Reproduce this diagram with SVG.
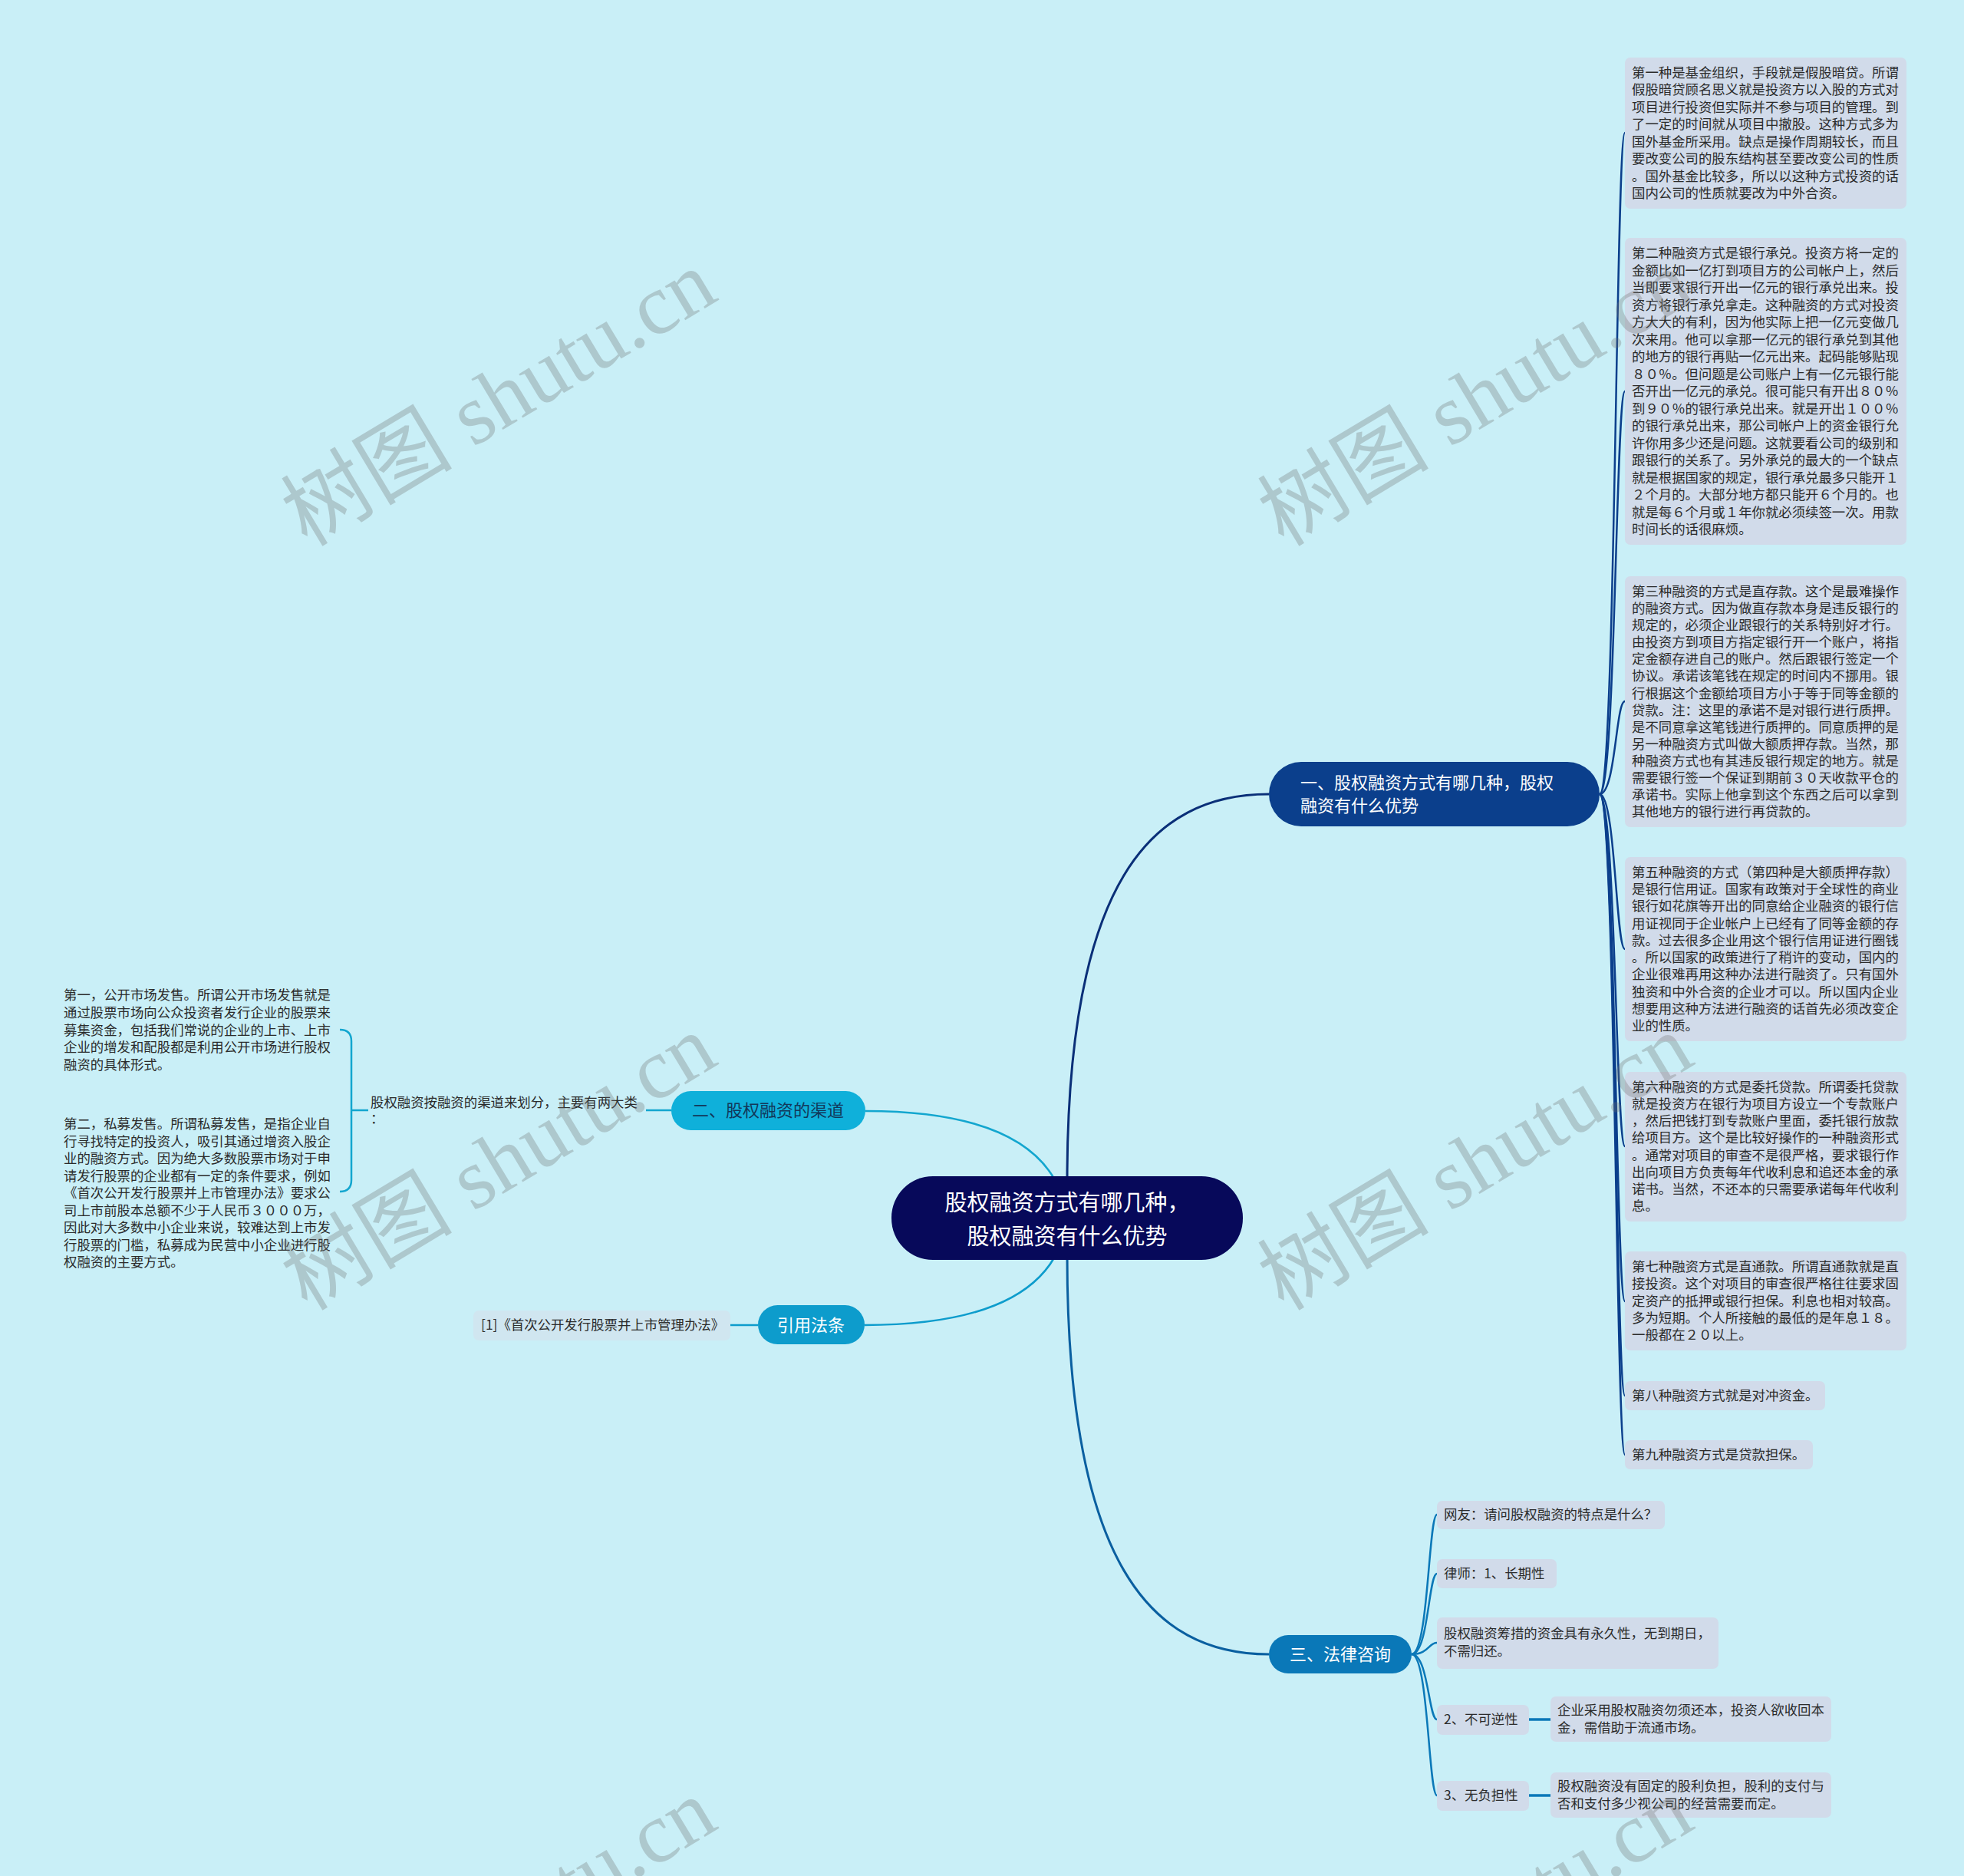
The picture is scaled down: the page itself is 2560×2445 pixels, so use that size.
<svg xmlns="http://www.w3.org/2000/svg" width="2560" height="2445" viewBox="0 0 2560 2445">
<defs>
<style>
.t{font-family:"Noto Sans CJK SC","Noto Sans",sans-serif;font-size:17.4px;fill:#2b2b2b}
.nt{font-family:"Noto Sans CJK SC","Noto Sans",sans-serif;font-size:22px}
.box{fill:#d1dbea}
.c1{fill:none;stroke:#0b3f8c;stroke-width:2.5}
.c2{fill:none;stroke:#13a6cf;stroke-width:2.5}
.c3{fill:none;stroke:#0a78b8;stroke-width:2.5}
.wm{font-family:"Liberation Serif","Noto Sans CJK SC",serif;font-size:112px;fill:#6f6f6f;opacity:0.3}
</style>
</defs>
<rect x="0" y="0" width="2560" height="2445" fill="#c9eff7"/>

<g id="connectors">
<path d="M1391,1540 C1391,1150 1500,1035 1654,1035" fill="none" stroke="#0a2f78" stroke-width="3"/>
<path d="M1391,1636 C1391,2037 1500,2156 1654,2156" fill="none" stroke="#0a5fa0" stroke-width="3"/>
<path d="M1128,1448 C1300,1448 1380,1500 1391,1588" class="c2"/>
<path d="M1127,1727 C1300,1727 1380,1675 1391,1588" fill="none" stroke="#0d9ccc" stroke-width="2.5"/>
<path d="M2085,1035 C2106,1035 2106,173 2118,173" class="c1"/>
<path d="M2085,1035 C2106,1035 2106,510 2118,510" class="c1"/>
<path d="M2085,1035 C2106,1035 2106,914 2118,914" class="c1"/>
<path d="M2085,1035 C2106,1035 2106,1237 2118,1237" class="c1"/>
<path d="M2085,1035 C2106,1035 2106,1494 2118,1494" class="c1"/>
<path d="M2085,1035 C2106,1035 2106,1696 2118,1696" class="c1"/>
<path d="M2085,1035 C2106,1035 2106,1819 2118,1819" class="c1"/>
<path d="M2085,1035 C2106,1035 2106,1896 2118,1896" class="c1"/>
<path d="M875,1447 L842,1447" class="c2"/>
<path d="M480,1447 L458,1447 M443,1342 Q458,1342 458,1357 L458,1538 Q458,1553 443,1553" class="c2"/>
<path d="M988,1727 L952,1727" fill="none" stroke="#0d9ccc" stroke-width="2.5"/>
<path d="M1840,2156 C1862,2156 1862,1974 1873,1974" class="c3"/>
<path d="M1840,2156 C1862,2156 1862,2051 1873,2051" class="c3"/>
<path d="M1840,2156 C1862,2156 1862,2141 1873,2141" class="c3"/>
<path d="M1840,2156 C1862,2156 1862,2241 1873,2241" class="c3"/>
<path d="M1840,2156 C1862,2156 1862,2340 1873,2340" class="c3"/>
<path d="M1993,2241 L2021,2241" fill="none" stroke="#0a78b8" stroke-width="3.5"/>
<path d="M1993,2340 L2021,2340" fill="none" stroke="#0a78b8" stroke-width="3.5"/>
</g>

<g id="root">
<rect x="1162" y="1533" width="458" height="109" rx="54" fill="#07095a"/>
<text class="nt" style="font-size:29px" fill="#ffffff" text-anchor="middle"><tspan x="1391" y="1578">股权融资方式有哪几种，</tspan><tspan x="1391" y="1622">股权融资有什么优势</tspan></text>
</g>

<g id="n1">
<rect x="1654" y="993" width="431" height="84" rx="42" fill="#0b3f8c"/>
<text class="nt" fill="#ffffff"><tspan x="1695" y="1028">一、股权融资方式有哪几种，股权</tspan><tspan x="1695" y="1058">融资有什么优势</tspan></text>
</g>

<g id="n1-1">
<rect class="box" x="2118" y="75" width="367" height="197" rx="7"/>
<text class="t"><tspan x="2127" y="101">第一种是基金组织，手段就是假股暗贷。所谓</tspan><tspan x="2127" y="123.4">假股暗贷顾名思义就是投资方以入股的方式对</tspan><tspan x="2127" y="145.9">项目进行投资但实际并不参与项目的管理。到</tspan><tspan x="2127" y="168.3">了一定的时间就从项目中撤股。这种方式多为</tspan><tspan x="2127" y="190.7">国外基金所采用。缺点是操作周期较长，而且</tspan><tspan x="2127" y="213.1">要改变公司的股东结构甚至要改变公司的性质</tspan><tspan x="2127" y="235.6">。国外基金比较多，所以以这种方式投资的话</tspan><tspan x="2127" y="258">国内公司的性质就要改为中外合资。</tspan></text>
</g>

<g id="n1-2">
<rect class="box" x="2118" y="310" width="367" height="400" rx="7"/>
<text class="t"><tspan x="2127" y="336">第二种融资方式是银行承兑。投资方将一定的</tspan><tspan x="2127" y="358.5">金额比如一亿打到项目方的公司帐户上，然后</tspan><tspan x="2127" y="381">当即要求银行开出一亿元的银行承兑出来。投</tspan><tspan x="2127" y="403.5">资方将银行承兑拿走。这种融资的方式对投资</tspan><tspan x="2127" y="426">方大大的有利，因为他实际上把一亿元变做几</tspan><tspan x="2127" y="448.5">次来用。他可以拿那一亿元的银行承兑到其他</tspan><tspan x="2127" y="471">的地方的银行再贴一亿元出来。起码能够贴现</tspan><tspan x="2127" y="493.5">８０％。但问题是公司账户上有一亿元银行能</tspan><tspan x="2127" y="516">否开出一亿元的承兑。很可能只有开出８０％</tspan><tspan x="2127" y="538.5">到９０％的银行承兑出来。就是开出１００％</tspan><tspan x="2127" y="561">的银行承兑出来，那公司帐户上的资金银行允</tspan><tspan x="2127" y="583.5">许你用多少还是问题。这就要看公司的级别和</tspan><tspan x="2127" y="606">跟银行的关系了。另外承兑的最大的一个缺点</tspan><tspan x="2127" y="628.5">就是根据国家的规定，银行承兑最多只能开１</tspan><tspan x="2127" y="651">２个月的。大部分地方都只能开６个月的。也</tspan><tspan x="2127" y="673.5">就是每６个月或１年你就必须续签一次。用款</tspan><tspan x="2127" y="696">时间长的话很麻烦。</tspan></text>
</g>

<g id="n1-3">
<rect class="box" x="2118" y="751" width="367" height="327" rx="7"/>
<text class="t"><tspan x="2127" y="777">第三种融资的方式是直存款。这个是最难操作</tspan><tspan x="2127" y="799.1">的融资方式。因为做直存款本身是违反银行的</tspan><tspan x="2127" y="821.2">规定的，必须企业跟银行的关系特别好才行。</tspan><tspan x="2127" y="843.2">由投资方到项目方指定银行开一个账户，将指</tspan><tspan x="2127" y="865.3">定金额存进自己的账户。然后跟银行签定一个</tspan><tspan x="2127" y="887.4">协议。承诺该笔钱在规定的时间内不挪用。银</tspan><tspan x="2127" y="909.5">行根据这个金额给项目方小于等于同等金额的</tspan><tspan x="2127" y="931.6">贷款。注：这里的承诺不是对银行进行质押。</tspan><tspan x="2127" y="953.6">是不同意拿这笔钱进行质押的。同意质押的是</tspan><tspan x="2127" y="975.7">另一种融资方式叫做大额质押存款。当然，那</tspan><tspan x="2127" y="997.8">种融资方式也有其违反银行规定的地方。就是</tspan><tspan x="2127" y="1019.9">需要银行签一个保证到期前３０天收款平仓的</tspan><tspan x="2127" y="1042">承诺书。实际上他拿到这个东西之后可以拿到</tspan><tspan x="2127" y="1064">其他地方的银行进行再贷款的。</tspan></text>
</g>

<g id="n1-5">
<rect class="box" x="2118" y="1117" width="367" height="240" rx="7"/>
<text class="t"><tspan x="2127" y="1143">第五种融资的方式（第四种是大额质押存款）</tspan><tspan x="2127" y="1165.2">是银行信用证。国家有政策对于全球性的商业</tspan><tspan x="2127" y="1187.4">银行如花旗等开出的同意给企业融资的银行信</tspan><tspan x="2127" y="1209.7">用证视同于企业帐户上已经有了同等金额的存</tspan><tspan x="2127" y="1231.9">款。过去很多企业用这个银行信用证进行圈钱</tspan><tspan x="2127" y="1254.1">。所以国家的政策进行了稍许的变动，国内的</tspan><tspan x="2127" y="1276.3">企业很难再用这种办法进行融资了。只有国外</tspan><tspan x="2127" y="1298.6">独资和中外合资的企业才可以。所以国内企业</tspan><tspan x="2127" y="1320.8">想要用这种方法进行融资的话首先必须改变企</tspan><tspan x="2127" y="1343">业的性质。</tspan></text>
</g>

<g id="n1-6">
<rect class="box" x="2118" y="1397" width="367" height="195" rx="7"/>
<text class="t"><tspan x="2127" y="1423">第六种融资的方式是委托贷款。所谓委托贷款</tspan><tspan x="2127" y="1445.1">就是投资方在银行为项目方设立一个专款账户</tspan><tspan x="2127" y="1467.3">，然后把钱打到专款账户里面，委托银行放款</tspan><tspan x="2127" y="1489.4">给项目方。这个是比较好操作的一种融资形式</tspan><tspan x="2127" y="1511.6">。通常对项目的审查不是很严格，要求银行作</tspan><tspan x="2127" y="1533.7">出向项目方负责每年代收利息和追还本金的承</tspan><tspan x="2127" y="1555.9">诺书。当然，不还本的只需要承诺每年代收利</tspan><tspan x="2127" y="1578">息。</tspan></text>
</g>

<g id="n1-7">
<rect class="box" x="2118" y="1631" width="367" height="129" rx="7"/>
<text class="t"><tspan x="2127" y="1657">第七种融资方式是直通款。所谓直通款就是直</tspan><tspan x="2127" y="1679.2">接投资。这个对项目的审查很严格往往要求固</tspan><tspan x="2127" y="1701.5">定资产的抵押或银行担保。利息也相对较高。</tspan><tspan x="2127" y="1723.7">多为短期。个人所接触的最低的是年息１８。</tspan><tspan x="2127" y="1746">一般都在２０以上。</tspan></text>
</g>

<g id="n1-8">
<rect class="box" x="2118" y="1800" width="261" height="38" rx="7"/>
<text class="t" x="2127" y="1825">第八种融资方式就是对冲资金。</text>
</g>

<g id="n1-9">
<rect class="box" x="2118" y="1877" width="245" height="38" rx="7"/>
<text class="t" x="2127" y="1902">第九种融资方式是贷款担保。</text>
</g>

<g id="n2">
<rect x="875" y="1422" width="253" height="51" rx="25.5" fill="#0fb0da"/>
<text class="nt" fill="#12385a" text-anchor="middle" x="1001" y="1455">二、股权融资的渠道</text>
</g>

<g id="n2-1">
<text class="t"><tspan x="483" y="1443">股权融资按融资的渠道来划分，主要有两大类</tspan><tspan x="483" y="1464">：</tspan></text>
</g>

<g id="n2-1-1">
<text class="t"><tspan x="83" y="1303">第一，公开市场发售。所谓公开市场发售就是</tspan><tspan x="83" y="1325.8">通过股票市场向公众投资者发行企业的股票来</tspan><tspan x="83" y="1348.5">募集资金，包括我们常说的企业的上市、上市</tspan><tspan x="83" y="1371.3">企业的增发和配股都是利用公开市场进行股权</tspan><tspan x="83" y="1394">融资的具体形式。</tspan></text>
</g>

<g id="n2-1-2">
<text class="t"><tspan x="83" y="1471">第二，私募发售。所谓私募发售，是指企业自</tspan><tspan x="83" y="1493.5">行寻找特定的投资人，吸引其通过增资入股企</tspan><tspan x="83" y="1516">业的融资方式。因为绝大多数股票市场对于申</tspan><tspan x="83" y="1538.5">请发行股票的企业都有一定的条件要求，例如</tspan><tspan x="83" y="1561">《首次公开发行股票并上市管理办法》要求公</tspan><tspan x="83" y="1583.5">司上市前股本总额不少于人民币３０００万，</tspan><tspan x="83" y="1606">因此对大多数中小企业来说，较难达到上市发</tspan><tspan x="83" y="1628.5">行股票的门槛，私募成为民营中小企业进行股</tspan><tspan x="83" y="1651">权融资的主要方式。</tspan></text>
</g>

<g id="n4">
<rect x="988" y="1701" width="139" height="51" rx="25.5" fill="#0d9ccc"/>
<text class="nt" fill="#ffffff" text-anchor="middle" x="1057" y="1735">引用法条</text>
</g>

<g id="n4-1">
<rect x="617" y="1708" width="335" height="39" rx="7" fill="#d0e6f0"/>
<text class="t" x="627" y="1733">[1]《首次公开发行股票并上市管理办法》</text>
</g>

<g id="n3">
<rect x="1654" y="2131" width="186" height="50" rx="25" fill="#0a78b8"/>
<text class="nt" fill="#ffffff" text-anchor="middle" x="1747" y="2164">三、法律咨询</text>
</g>

<g id="n3-1">
<rect class="box" x="1873" y="1956" width="297" height="37" rx="7"/>
<text class="t" x="1882" y="1980">网友：请问股权融资的特点是什么？</text>
</g>

<g id="n3-2">
<rect class="box" x="1873" y="2032" width="156" height="38" rx="7"/>
<text class="t" x="1882" y="2057">律师：1、长期性</text>
</g>

<g id="n3-3">
<rect class="box" x="1873" y="2108" width="367" height="67" rx="7"/>
<text class="t"><tspan x="1882" y="2135">股权融资筹措的资金具有永久性，无到期日，</tspan><tspan x="1882" y="2158">不需归还。</tspan></text>
</g>

<g id="n3-4">
<rect class="box" x="1873" y="2222" width="120" height="39" rx="7"/>
<text class="t" x="1882" y="2247">2、不可逆性</text>
</g>

<g id="n3-4-1">
<rect class="box" x="2021" y="2211" width="366" height="59" rx="7"/>
<text class="t"><tspan x="2030" y="2235">企业采用股权融资勿须还本，投资人欲收回本</tspan><tspan x="2030" y="2258">金，需借助于流通市场。</tspan></text>
</g>

<g id="n3-5">
<rect class="box" x="1873" y="2321" width="120" height="39" rx="7"/>
<text class="t" x="1882" y="2346">3、无负担性</text>
</g>

<g id="n3-5-1">
<rect class="box" x="2021" y="2310" width="366" height="59" rx="7"/>
<text class="t"><tspan x="2030" y="2334">股权融资没有固定的股利负担，股利的支付与</tspan><tspan x="2030" y="2357">否和支付多少视公司的经营需要而定。</tspan></text>
</g>

<g id="watermarks">
<text class="wm" text-anchor="middle" transform="translate(650,519) rotate(-31)" y="38">树图 shutu.cn</text>
<text class="wm" text-anchor="middle" transform="translate(1923,519) rotate(-31)" y="38">树图 shutu.cn</text>
<text class="wm" text-anchor="middle" transform="translate(650,1515) rotate(-31)" y="38">树图 shutu.cn</text>
<text class="wm" text-anchor="middle" transform="translate(1923,1515) rotate(-31)" y="38">树图 shutu.cn</text>
<text class="wm" text-anchor="middle" transform="translate(650,2511) rotate(-31)" y="38">树图 shutu.cn</text>
<text class="wm" text-anchor="middle" transform="translate(1923,2511) rotate(-31)" y="38">树图 shutu.cn</text>
</g>
</svg>
